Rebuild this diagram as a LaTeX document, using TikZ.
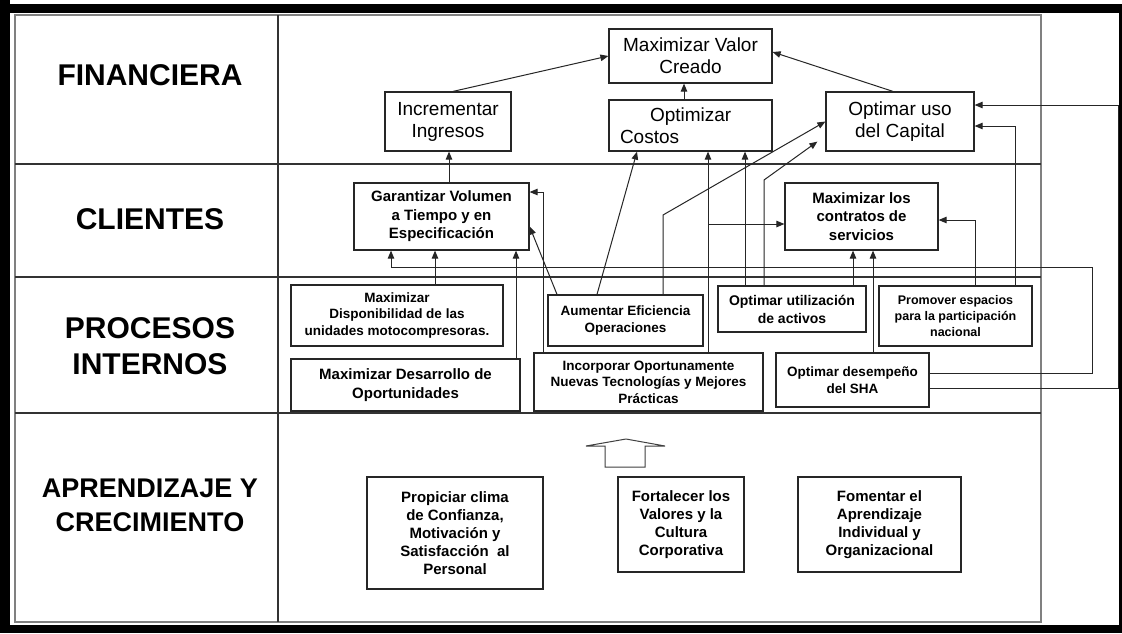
\documentclass[tikz,border=0pt]{standalone}
\usepackage{fontspec}
\setmainfont{Liberation Sans}
\usetikzlibrary{arrows.meta,calc}

\begin{document}
\begin{tikzpicture}[x=1pt,y=-1pt,
  box/.style={draw=black!85, line width=1.2pt, align=center, inner sep=0pt, fill=white},
  fin/.style={box, font=\fontsize{19}{22}\selectfont},
  cli/.style={box, font=\bfseries\fontsize{15}{18.5}\selectfont},
  pro/.style={box, font=\bfseries\fontsize{13.5}{16.5}\selectfont},
  apr/.style={box, font=\bfseries\fontsize{15}{18}\selectfont},
  head/.style={font=\bfseries\fontsize{30}{36}\selectfont, align=center},
  link/.style={draw=black!85, line width=1pt, -{Triangle[length=8pt,width=6.5pt]}},
  rule/.style={draw=black!80, line width=1.2pt}
]
\useasboundingbox (0,0) rectangle (1122,633);
\fill[white] (0,0) rectangle (1122,633);

% outer black frame
\fill[black] (0,4) rectangle (1122,13);
\fill[black] (0,0) rectangle (10,633);
\fill[black] (0,625) rectangle (1122,633);
\fill[black] (1119,4) rectangle (1122,633);

% table grid
\draw[gray, line width=2pt] (15,15) rectangle (1041,622);
\draw[rule] (15,164) -- (1041,164);
\draw[rule] (15,277) -- (1041,277);
\draw[rule] (15,413) -- (1041,413);
\draw[rule] (278,15) -- (278,622);

% perspective headings
\node[head] (hfin) at (150,75) {FINANCIERA};
\node[head] (hcli) at (150,219) {CLIENTES};
\node[head] (hpro) at (150,346) {PROCESOS\\INTERNOS};
\node[head, font=\bfseries\fontsize{27}{34}\selectfont] (hapr) at (150,505) {APRENDIZAJE Y\\CRECIMIENTO};

% financial objectives
\node[fin, minimum width=163pt, minimum height=54pt] (mvc) at (690.5,56) {Maximizar Valor\\Creado};
\node[fin, minimum width=126pt, minimum height=59pt] (inc) at (448,121.5) {Incrementar\\Ingresos};
\node[fin, minimum width=163pt, minimum height=51pt, text width=141pt, align=left] (optc) at (690.5,125.5) {\hspace*{30pt}Optimizar\\Costos};
\node[fin, minimum width=148pt, minimum height=59pt] (ouc) at (900,121.5) {Optimar uso\\del Capital};

% customer objectives
\node[cli, minimum width=175pt, minimum height=67pt] (gar) at (441.5,216.5) {Garantizar Volumen\\a Tiempo y en\\Especificaci\'on};
\node[cli, minimum width=153pt, minimum height=67pt] (mcs) at (861.5,216.5) {Maximizar los\\contratos de\\servicios};

% internal process objectives
\node[pro, minimum width=212pt, minimum height=61pt] (disp) at (397,315.5) {Maximizar\\Disponibilidad de las\\unidades motocompresoras.};
\node[cli, minimum width=229pt, minimum height=52pt] (desa) at (405.5,385) {Maximizar Desarrollo de\\Oportunidades};
\node[pro, minimum width=155pt, minimum height=51pt] (aum) at (625.5,320.5) {Aumentar Eficiencia\\Operaciones};
\node[pro, minimum width=229pt, minimum height=58pt] (inco) at (648.5,382) {Incorporar Oportunamente\\Nuevas Tecnolog\'ias y Mejores\\Pr\'acticas};
\node[pro, font=\bfseries\fontsize{14}{18}\selectfont, minimum width=148pt, minimum height=46pt] (outil) at (792,309) {Optimar utilizaci\'on\\de activos};
\node[pro, font=\bfseries\fontsize{12.5}{16}\selectfont, minimum width=153pt, minimum height=60pt] (prom) at (955.5,316) {Promover espacios\\para la participaci\'on\\nacional};
\node[pro, minimum width=153pt, minimum height=54pt] (sha) at (852.5,380) {Optimar desempe\~no\\del SHA};

% learning and growth objectives
\node[apr, minimum width=176pt, minimum height=112pt] (prop) at (455,533) {Propiciar clima\\de Confianza,\\Motivaci\'on y\\Satisfacci\'on\ \ al\\Personal};
\node[apr, minimum width=126pt, minimum height=95pt] (fort) at (681,524.5) {Fortalecer los\\Valores y la\\Cultura\\Corporativa};
\node[apr, minimum width=163pt, minimum height=95pt] (fom) at (879.5,524.5) {Fomentar el\\Aprendizaje\\Individual y\\Organizacional};

% upward block arrow
\draw[draw=black!75, line width=1pt] (605,467) -- (605,446) -- (586,446) -- (626,439) -- (665,446) -- (645,446) -- (645,467) -- cycle;

% helper abscissas and bend points
\coordinate (x391) at (391,0);
\coordinate (x435) at (435,0);
\coordinate (x449) at (449,0);
\coordinate (x516) at (516,0);
\coordinate (x543) at (543,0);
\coordinate (x557) at (557,0);
\coordinate (x597) at (597,0);
\coordinate (x637) at (637,0);
\coordinate (x663) at (663,0);
\coordinate (x684) at (684,0);
\coordinate (x708) at (708,0);
\coordinate (x745) at (745,0);
\coordinate (x764) at (764,0);
\coordinate (x853) at (853,0);
\coordinate (x873) at (873,0);
\coordinate (x893) at (893,0);
\coordinate (x975) at (975,0);
\coordinate (x1015) at (1015,0);
\coordinate (k1) at (663,215);
\coordinate (k2) at (764,180);
\coordinate (br) at (708,224);
\coordinate (r1) at (1092,267);
\coordinate (r2) at (1118,105);

% financial links
\draw[link] ($(inc.north)+(5,0)$) -- (mvc.west);
\draw[link] (optc.north -| x684) -- (mvc.south -| x684);
\draw[link] (ouc.north -| x893) -- ($(mvc.east)+(0,-4)$);

% customer to financial
\draw[link] (gar.north -| x449) -- (inc.south -| x449);

% internal processes upward
\draw[link] (aum.north -| x597) -- (optc.south -| x637);
\draw[link] (aum.north -| x663) -- (k1) -- (ouc.west);
\draw[link] (aum.north -| x557) -- ($(gar.east)+(0,10)$);
\draw[link] (inco.north -| x543) |- ($(gar.east)+(0,-24.5)$);
\draw[link] (inco.north -| x708) -- (optc.south -| x708);
\draw[link] (br) -- (br -| mcs.west);
\draw[link] (outil.north -| x745) -- (optc.south -| x745);
\draw[link] (outil.north -| x764) -- (k2) -- ($(ouc.south west)+(-8,-10)$);
\draw[link] (outil.north -| x853) -- (mcs.south -| x853);
\draw[link] (sha.north -| x873) -- (mcs.south -| x873);
\draw[link] (prom.north -| x975) |- ($(mcs.east)+(0,3.5)$);
\draw[link] (prom.north -| x1015) |- ($(ouc.east)+(0,4.5)$);
\draw[link] (desa.north -| x516) -- (gar.south -| x516);
\draw[link] (disp.north -| x435) -- (gar.south -| x435);
\draw[link] ($(sha.east)+(0,8)$) -| (r2) -- ($(ouc.east)+(0,-16.5)$);
\draw[link] ($(sha.east)+(0,-7)$) -| (r1) -| (gar.south -| x391);
\end{tikzpicture}
\end{document}
